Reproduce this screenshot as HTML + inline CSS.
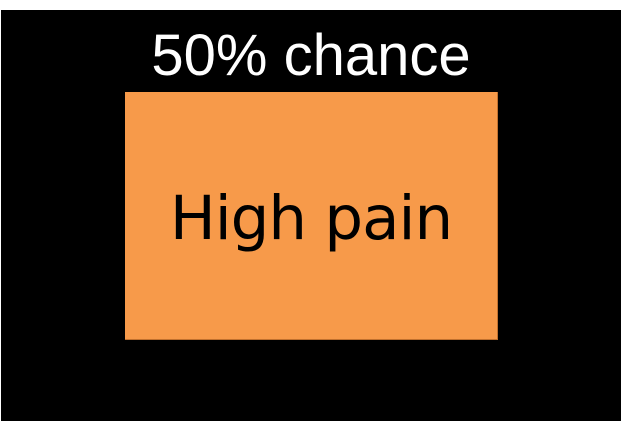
<!DOCTYPE html>
<html><head><style>
html,body{margin:0;padding:0;background:#fff;width:622px;height:422px;overflow:hidden}
#bg{position:absolute;left:1px;top:10px;width:620px;height:411px;background:#000}
#t{position:absolute;left:0;width:622px;top:26px;text-align:center;color:#fff;font:58px "Liberation Sans",sans-serif;line-height:60px}
#box{position:absolute;left:125px;top:92px;width:372px;height:247px;background:#f79a4a;border-bottom:1px solid #c0702e;border-right:1px solid #c0702e}
#l{position:absolute;left:0;width:100%;top:92px;text-align:center;color:#000;font:61px "DejaVu Sans","Liberation Sans",sans-serif;line-height:70px;letter-spacing:-1px}
</style></head><body>
<div id="bg"></div>
<div id="t">50% chance</div>
<div id="box"><div id="l">High pain</div></div>
</body></html>
